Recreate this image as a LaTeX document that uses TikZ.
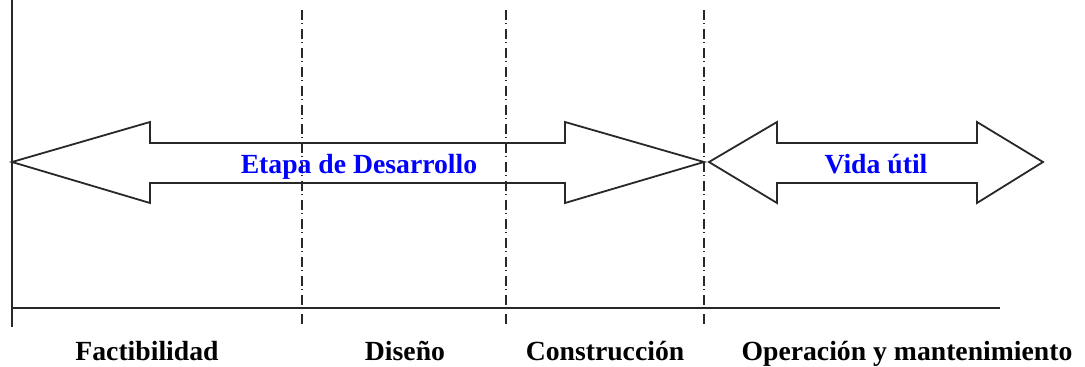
\documentclass[tikz,border=0pt]{standalone}
\usepackage{fontspec}
\setmainfont{Liberation Serif}
\definecolor{linegray}{RGB}{40,40,40}
\definecolor{labelblue}{RGB}{0,0,255}
\tikzset{
  axisline/.style={draw=linegray, line width=1.9pt},
  phaseline/.style={draw=linegray, line width=1.6pt, dash pattern=on 9.5pt off 3.5pt on 1pt off 5pt},
  bigarrow/.style={draw=linegray, line width=1.8pt, fill=white, line join=miter},
  arrowlabel/.style={text=labelblue, font=\fontsize{27.7}{30}\selectfont\bfseries, anchor=base, inner sep=0pt},
  phaselabel/.style={text=black, font=\fontsize{27.7}{30}\selectfont\bfseries, anchor=base, inner sep=0pt}
}
\begin{document}
\begin{tikzpicture}[x=1pt,y=-1pt]
\useasboundingbox[fill=white] (0,0) rectangle (1085,367);
% axes
\coordinate (ytop) at (12,0);
\coordinate (ybot) at (12,327);
\coordinate (xleft) at (12,308);
\coordinate (xright) at (1000,308);
\draw[axisline] (ytop) -- (ybot);
\draw[axisline] (xleft) -- (xright);
% phase separators
\foreach \n/\x in {a/302,b/506,c/704}{
  \coordinate (\n top) at (\x,10);
  \coordinate (\n bot) at (\x,327);
  \draw[phaseline] (\n top) -- (\n bot);
}
% development arrow
\draw[bigarrow] (12,162) -- (150,122) -- (150,143) -- (565,143) -- (565,122) -- (704,162)
  -- (565,203) -- (565,183) -- (150,183) -- (150,203) -- cycle;
% useful life arrow
\draw[bigarrow] (709,162) -- (777,122) -- (777,143) -- (977,143) -- (977,122) -- (1043,162)
  -- (977,203) -- (977,183) -- (777,183) -- (777,203) -- cycle;
% redraw separators over arrows
\foreach \n in {a,b,c}{
  \draw[phaseline] (\n top) -- (\n bot);
}
\node[arrowlabel] (etapa) at (359,173) {Etapa de Desarrollo};
\node[arrowlabel] (vida) at (876,173) {Vida útil};
\node[phaselabel] (fact) at (147,360) {Factibilidad};
\node[phaselabel] (dis) at (405,360) {Diseño};
\node[phaselabel] (cons) at (605,360) {Construcción};
\node[phaselabel] (oper) at (907,360) {Operación y mantenimiento};
\end{tikzpicture}
\end{document}
